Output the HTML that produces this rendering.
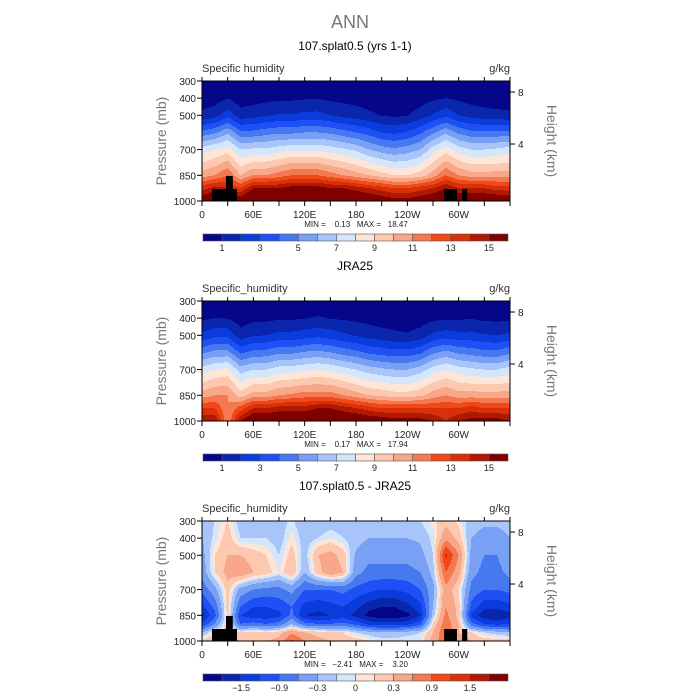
<!DOCTYPE html>
<html><head><meta charset="utf-8"><style>
html,body{margin:0;background:#fff;overflow:hidden;width:700px;height:700px;}
svg{display:block;}
svg text{font-family:"Liberation Sans",sans-serif;}
</style></head><body>
<svg id="fig" width="700" height="700" viewBox="0 0 700 700" xmlns="http://www.w3.org/2000/svg">
<rect width="700" height="700" fill="#fff"/>
<text x="350" y="28" text-anchor="middle" font-size="18" fill="#777">ANN</text>
</svg>
<script>
// ---- data ----
const colors = ["#06068a","#0a26ac","#0a3cdc","#1e50f5","#4678f0","#78a0f5","#a8c4f8","#d4e6fc","#fde6d8","#fcc8b0","#f8a888","#f47850","#f04818","#d83008","#b01800","#800000"];
const qBounds = [1,2,3,4,5,6,7,8,9,10,11,12,13,14,15];
const qLabels = ["1","3","5","7","9","11","13","15"];
const dBounds = [-1.8,-1.5,-1.2,-0.9,-0.6,-0.3,-0.1,0,0.1,0.3,0.6,0.9,1.2,1.5,1.8];
const dLabels = ["-1.5","-0.9","-0.3","0","0.3","0.9","1.5"];
const lons = [0,15,30,45,60,75,90,105,120,135,150,165,180,195,210,225,240,255,270,285,300,315,330,345,360];
const qLevels = [1000,925,850,700,600,500,400,300];
const dLevels = [1000,950,900,850,800,700,600,500,400,300];
const modelQ = [
[16,13.5,10.5,7.5,4.3,1.2,0.45,0.2],[17,14.5,11,8,4.8,1.6,0.55,0.2],[16,14,12,8.5,5.8,2.6,0.95,0.3],[16,13,10,7,4.3,1.4,0.5,0.2],
[17.5,15,11,7.2,4.3,1.6,0.6,0.2],[17.5,15,11,7.2,4.6,1.9,0.7,0.2],[17.5,15,11.5,7.5,4.8,2.1,0.8,0.3],[17.5,15.5,12,7.8,4.8,2.1,0.8,0.3],
[17.5,15.5,12,7.8,5,2.3,0.9,0.3],[17.5,15.5,12,7.8,5,2.3,0.95,0.3],[17.5,15,11.5,7.5,4.8,2.0,0.8,0.3],[17.5,15,11,7.2,4.4,1.7,0.7,0.2],
[17,14.5,10.5,6.8,4.0,1.5,0.6,0.2],[16.5,14,10,6,3.6,1.2,0.5,0.2],[16,13.5,9.5,5.5,3.0,0.95,0.4,0.2],[15.5,13,9,5.2,2.8,0.8,0.35,0.1],
[15.5,13,9,5.5,3.1,0.95,0.4,0.2],[16,13.5,9.5,6,3.8,1.4,0.55,0.2],[16.5,14,10.5,7.5,4.8,2.1,0.8,0.3],[17,15,12,8.5,5.8,2.7,1.0,0.3],
[16.5,14,11,7.5,4.8,2.0,0.8,0.3],[16.5,14,10.5,7,4.3,1.6,0.6,0.2],[16.5,14,10.5,7,4.3,1.4,0.5,0.2],[16.5,13.5,10.5,7.2,4.3,1.3,0.45,0.2],
[16,13.5,10.5,7.5,4.3,1.2,0.45,0.2]];
const obsQ = [
[15,13,10.5,7.5,4.8,2.2,0.75,0.3],[15,13,11,8,5.3,2.7,1.0,0.3],[11,11,11,8.3,5.3,2.7,0.95,0.3],[15,12.5,9.5,6.5,3.8,1.4,0.5,0.2],
[16.5,14,10.5,7,4.3,1.9,0.7,0.2],[16.5,14,10.5,7,4.4,2.0,0.75,0.2],[16.5,14.5,11,7.5,4.8,2.3,0.85,0.3],[16.5,14.5,11.2,7.6,4.8,2.3,0.85,0.3],
[16.5,14.5,11.5,7.8,5.1,2.5,0.95,0.3],[16.5,15,11.5,8,5.3,2.7,1.1,0.3],[16.5,15,11.5,7.8,5.0,2.5,0.95,0.3],[16.5,14.5,11,7.4,4.6,2.2,0.85,0.3],
[16.5,14,10.5,7,4.3,1.9,0.75,0.2],[16,13.5,10,6.5,3.8,1.6,0.65,0.2],[16,13,9.8,6.2,3.6,1.4,0.5,0.2],[15.5,13,9.5,6,3.4,1.2,0.5,0.2],
[15.5,13,9.5,6,3.4,1.1,0.45,0.2],[15.5,13,9.8,6.5,3.8,1.4,0.5,0.2],[15,13,10.5,7.5,4.8,2.2,0.75,0.3],[14,13,11,8,5.3,2.5,0.85,0.3],
[15,13,10.5,7.5,4.8,2.3,0.85,0.3],[15.5,13.5,10.5,7.2,4.6,2.3,0.95,0.3],[15.5,13,10.5,7,4.3,2.1,0.75,0.2],[15.5,13,10.5,7,4.3,2.0,0.75,0.2],
[15,13,10.5,7.5,4.8,2.2,0.75,0.3]];
const diffQ = [
[0.2,-0.3,-1.2,-1.6,-1.3,-0.8,-0.5,-0.4,-0.3,-0.2],[0.3,0.1,-0.6,-1.0,-0.8,-0.4,0.1,0.1,-0.05,-0.1],
[0.4,0.3,0.2,0.2,0.2,0.2,0.4,0.3,0.2,0.1],[0.3,0.1,-0.9,-1.2,-0.9,-0.4,0.5,0.3,-0.1,-0.2],
[0.3,0.2,-0.8,-1.4,-1.2,-0.6,0.3,0.2,-0.1,-0.2],[0.3,0.1,-0.9,-1.4,-1.2,-0.7,0.2,0.1,-0.1,-0.2],
[0.4,0.2,-0.8,-1.3,-1.1,-0.7,0.0,-0.1,-0.2,-0.2],[1.0,0.5,-0.3,-0.8,-0.9,-0.5,0.3,0.2,0.05,-0.05],
[0.6,0.3,-0.8,-1.5,-1.3,-0.9,-0.3,-0.2,-0.2,-0.3],[0.4,0.2,-0.9,-1.6,-1.4,-0.9,0.2,0.3,-0.1,-0.3],
[0.3,0.1,-0.9,-1.5,-1.3,-0.9,0.5,0.4,0.0,-0.2],[0.2,0.1,-0.8,-1.4,-1.2,-0.8,0.3,0.2,-0.1,-0.2],
[0.2,-0.1,-1.0,-1.6,-1.4,-1.0,-0.5,-0.35,-0.2,-0.15],[0.1,-0.2,-1.3,-1.9,-1.7,-1.1,-0.7,-0.5,-0.3,-0.15],
[0.0,-0.3,-1.4,-2.0,-1.8,-1.2,-0.7,-0.5,-0.3,-0.15],[0.0,-0.3,-1.4,-2.0,-1.8,-1.2,-0.7,-0.5,-0.3,-0.15],
[0.05,-0.2,-1.3,-1.9,-1.6,-1.1,-0.7,-0.5,-0.3,-0.15],[0.0,-0.1,-1.0,-1.5,-1.3,-0.9,-0.6,-0.4,-0.25,-0.1],
[0.4,0.3,0.1,-0.2,-0.3,-0.4,-0.2,-0.1,-0.05,0.05],[0.9,0.9,0.8,0.7,0.6,0.5,0.9,1.3,0.5,0.2],
[0.5,0.3,0.3,0.2,0.2,0.1,0.4,0.6,0.2,0.05],[0.3,0.1,-0.8,-1.3,-1.0,-0.7,-0.5,-0.4,-0.3,-0.2],
[0.2,-0.1,-1.2,-1.7,-1.4,-0.9,-0.7,-0.6,-0.4,-0.25],[0.2,-0.2,-1.3,-1.8,-1.4,-0.9,-0.7,-0.6,-0.4,-0.25],
[0.2,-0.3,-1.2,-1.6,-1.3,-0.8,-0.5,-0.4,-0.3,-0.2]];
// land mask boxes: [lonStart, lonEnd, pressureTop]
const landMask = [[11.7,40.9,930],[28,36,854],[283,298,930],[304,310,930]];
const xTicks = [0,60,120,180,240,300];
const xTickLabels = ["0","60E","120E","180","120W","60W"];
const pTicks = [300,400,500,700,850,1000];
const hTicks = [[8,92],[4,144]];

// ---- drawing ----
const NS="http://www.w3.org/2000/svg";
const svg=document.getElementById('fig');
const PX=202, PW=308, PH=120;
function el(tag,attrs,parent){const e=document.createElementNS(NS,tag);for(const k in attrs)e.setAttribute(k,attrs[k]);(parent||svg).appendChild(e);return e;}
function xScale(lon){return PX+lon/360*PW;}
function sample(table,levels,lon,p){
  let i=Math.min(Math.floor(lon/15),lons.length-2); let fx=(lon-lons[i])/15;
  let j=0; while(j<levels.length-2 && p<levels[j+1]) j++;
  let fy=(levels[j]-p)/(levels[j]-levels[j+1]); fy=Math.max(0,Math.min(1,fy));
  const a=table[i][j]*(1-fx)+table[i+1][j]*fx;
  const b=table[i][j+1]*(1-fx)+table[i+1][j+1]*fx;
  return a*(1-fy)+b*fy;
}
function colorIdx(v,b){let k=0;while(k<b.length&&v>=b[k])k++;return k;}
function panel(oy,name,title,left,table,levels,bounds,labels,minmax){
  const g=el('g',{});
  
  
  const py=oy;
  const t=el('text',{x:355,y:py-31,'text-anchor':'middle','font-size':12,fill:'#000'},g);t.textContent=title;
  
  const l=el('text',{x:PX,y:py-9,'font-size':11,fill:'#333'},g);l.textContent=left;
  
  const u=el('text',{x:PX+PW,y:py-9,'text-anchor':'end','font-size':11,fill:'#333'},g);u.textContent='g/kg';
  
  const field=el('g',{},g);
  
  
  for(let y=0;y<PH;y++){
    const p=300+(y+0.5)/PH*700;
    let start=0,cur=-1;
    for(let x=0;x<=PW;x++){
      let c=-2;
      if(x<PW){const lon=(x+0.5)/PW*360;c=colorIdx(sample(table,levels,lon,p),bounds);}
      if(c!==cur){
        if(cur>=0){const r=el('rect',{x:PX+start,y:py+y,width:x-start,height:1.05,fill:colors[cur]},field);
          }
        cur=c;start=x;
      }
    }
  }
  if(name!=='panel-jra25'){
    landMask.forEach(m=>{const y0=py+(m[2]-300)/700*PH;
      const r=el('rect',{x:xScale(m[0]),y:y0,width:xScale(m[1])-xScale(m[0]),height:py+PH-y0,fill:'#000'},g);
      });
  }
  el('rect',{x:PX,y:py,width:PW,height:PH,fill:'none',stroke:'#000','stroke-width':1},g);
  for(let lon=0;lon<=360;lon+=30){const x=xScale(lon);
    el('line',{x1:x,y1:py+PH,x2:x,y2:py+PH+5,stroke:'#000'},g);
    el('line',{x1:x,y1:py,x2:x,y2:py-4,stroke:'#000'},g);}
  xTicks.forEach((v,i)=>{const tt=el('text',{x:xScale(v),y:py+PH+17,'text-anchor':'middle','font-size':10,fill:'#222'},g);tt.textContent=xTickLabels[i];
    });
  pTicks.forEach(v=>{const y=py+(v-300)/700*PH;
    el('line',{x1:PX-5,y1:y,x2:PX,y2:y,stroke:'#000'},g);
    const tt=el('text',{x:PX-6,y:y+4,'text-anchor':'end','font-size':10,fill:'#222'},g);tt.textContent=v;
    });
  hTicks.forEach(h=>{const y=py+(h[1]-81);
    el('line',{x1:PX+PW,y1:y,x2:PX+PW+5,y2:y,stroke:'#000'},g);
    const tt=el('text',{x:PX+PW+8,y:y+4,'font-size':10,fill:'#222'},g);tt.textContent=h[0];
    });
  const ya=el('text',{x:0,y:0,'text-anchor':'middle','font-size':14,fill:'#777',transform:`translate(166,${py+60}) rotate(-90)`},g);ya.textContent='Pressure (mb)';
  
  const ha=el('text',{x:0,y:0,'text-anchor':'middle','font-size':14,fill:'#777',transform:`translate(547,${py+60}) rotate(90)`},g);ha.textContent='Height (km)';
  
  const mm=el('text',{x:356,y:py+PH+26,'text-anchor':'middle','font-size':8,fill:'#222',style:'white-space:pre'},g);mm.textContent=minmax;
  
  const cb=el('g',{},g);
  
  const cw=305/16, cy=py+153;
  colors.forEach((c,i)=>{el('rect',{x:203+i*cw,y:cy,width:cw,height:7,fill:c,stroke:'#555','stroke-width':0.6},cb);});
  labels.forEach((s,i)=>{const tt=el('text',{x:203+(2*i+1)*cw+(labels.length===7?cw:0),y:cy+17,'text-anchor':'middle','font-size':9,fill:'#222'},cb);tt.textContent=s.replace('-','\u2212');
    });
}
panel(81,'panel-model','107.splat0.5 (yrs 1-1)','Specific humidity',modelQ,qLevels,qBounds,qLabels,'MIN =    0.13   MAX =   18.47');
panel(301,'panel-jra25','JRA25','Specific_humidity',obsQ,qLevels,qBounds,qLabels,'MIN =    0.17   MAX =   17.94');
panel(521,'panel-difference','107.splat0.5 - JRA25','Specific_humidity',diffQ,dLevels,dBounds,dLabels,'MIN =   \u22122.41   MAX =    3.20');
</script>
</body></html>
